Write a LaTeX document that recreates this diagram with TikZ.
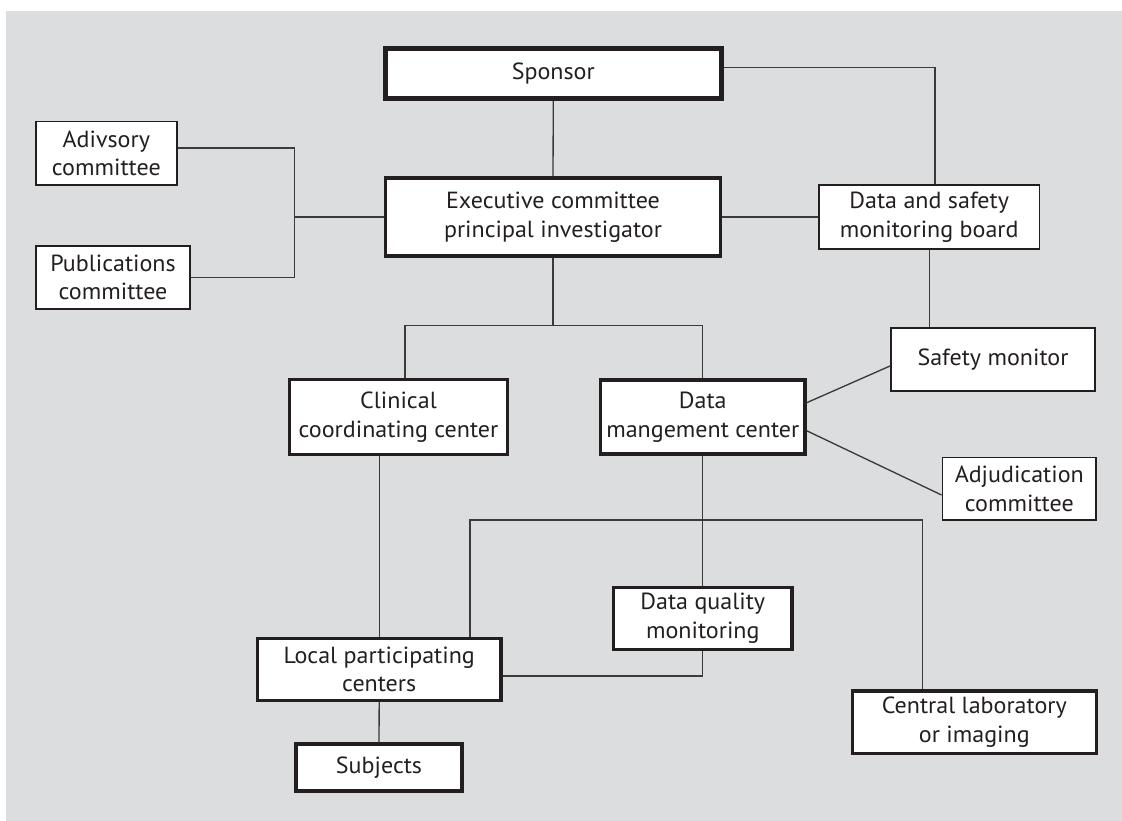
\documentclass[tikz,border=0pt]{standalone}
\usepackage{fontspec}
\setmainfont{PT Sans}[FakeStretch=1.03]
\definecolor{panel}{HTML}{DCDDDF}
\definecolor{ink}{HTML}{231F20}
\definecolor{wirec}{HTML}{3A3A3A}
\tikzset{
  box/.style={draw=ink, fill=white, text=ink, align=center, inner sep=0pt,
    font=\fontsize{17.5}{21.5}\selectfont, line width=1.2pt},
  boxmid/.style={box, line width=2.6pt},
  boxbold/.style={box, line width=3.8pt},
  wire/.style={draw=wirec, line width=1pt},
}
\begin{document}
\begin{tikzpicture}[x=0.75pt, y=-0.75pt]
  % page and grey panel
  \useasboundingbox (0,0) rectangle (1122,821);
  \fill[white] (0,0) rectangle (1122,821);
  \fill[panel] (6,11) rectangle (1122,821);

  % boxes
  \node[boxbold, minimum width=252.2pt, minimum height=37.7pt] (sponsor) at (553.3,73.4) {Sponsor};
  \node[boxmid, minimum width=251pt, minimum height=58.7pt] (exec) at (553,216.9) {Executive committee\\principal investigator};
  \node[box, minimum width=165.2pt, minimum height=47.9pt] (dsmb) at (929.2,216.9) {Data and safety\\monitoring board};
  \node[box, minimum width=153.4pt, minimum height=47.2pt] (safety) at (993,359.5) {Safety monitor};
  \node[boxmid, minimum width=153.2pt, minimum height=55.4pt] (dm) at (702.8,417) {Data\\mangement center};
  \node[boxmid, minimum width=163.6pt, minimum height=56.1pt] (clin) at (398.5,417) {Clinical\\coordinating center};
  \node[box, minimum width=115.4pt, minimum height=47.1pt] (adj) at (1019.3,488.8) {Adjudication\\committee};
  \node[box, minimum width=105.9pt, minimum height=47.6pt] (adv) at (106.3,153.2) {Adivsory\\committee};
  \node[box, minimum width=115.9pt, minimum height=47.6pt] (pub) at (113,277.5) {Publications\\committee};
  \node[boxmid, minimum width=134.1pt, minimum height=46.4pt] (dq) at (702.8,618.3) {Data quality\\monitoring};
  \node[boxmid, minimum width=182.6pt, minimum height=46.4pt] (local) at (379.2,669.3) {Local participating\\centers};
  \node[boxmid, minimum width=124.4pt, minimum height=35.2pt] (subj) at (379,767.5) {Subjects};
  \node[boxmid, minimum width=182.9pt, minimum height=46.7pt] (lab) at (974.3,722.2) {Central laboratory\\or imaging};

  % junction points
  \coordinate (advj) at (294.3,216.9);
  \coordinate (split) at (553,325.7);
  \coordinate (bus) at (702.8,520);

  % connectors
  \draw[wire] (sponsor.south) -- (exec.north);
  \draw[wire] ([yshift=4.3pt]sponsor.east) -| ([xshift=4.35pt]dsmb.north);
  \draw[wire] (exec.east) -- (dsmb.west);
  \draw[wire] ([yshift=3.9pt]adv.east) -| (advj) |- (pub.east);
  \draw[wire] (advj) -- (exec.west);
  \draw[wire] (exec.south) -- (split);
  \draw[wire] ([xshift=4.9pt]clin.north) |- (split) -| (dm.north);
  \draw[wire] (dsmb.south) -- (dsmb.south |- safety.north);
  \draw[wire] ([yshift=10.7pt]dm.east) -- ([yshift=-4.9pt]safety.west);
  \draw[wire] ([yshift=-10.3pt]dm.east) -- ([yshift=-4.65pt]adj.west);
  \draw[wire] (local.north |- clin.south) -- (local.north);
  \draw[wire] (dm.south) -- (dq.north);
  \draw[wire] ([xshift=68.1pt]local.north) |- (bus) -| ([xshift=-38.7pt]lab.north);
  \draw[wire] (dq.south) |- ([yshift=-5pt]local.east);
  \draw[wire] (local.south) -- (subj.north);
\end{tikzpicture}
\end{document}
